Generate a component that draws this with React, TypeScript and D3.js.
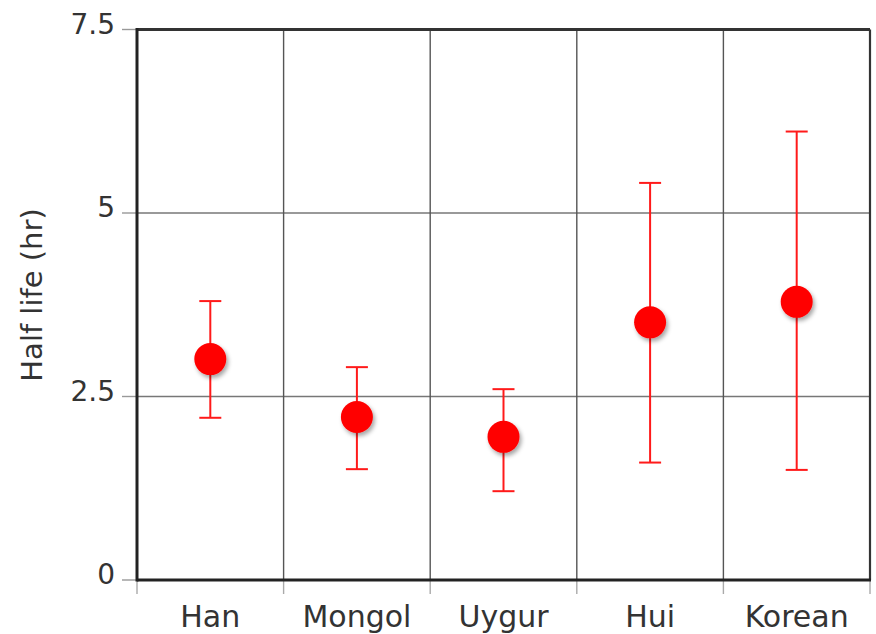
import React from "react";
import * as d3 from "d3";

const categories = ["Han", "Mongol", "Uygur", "Hui", "Korean"];
const means = [3.01, 2.22, 1.95, 3.51, 3.79];
const uppers = [3.8, 2.9, 2.6, 5.41, 6.11];
const lowers = [2.21, 1.51, 1.21, 1.6, 1.5];
const yTicks = [0, 2.5, 5, 7.5];
const yTickLabels = ["0", "2.5", "5", "7.5"];
const yTitle = "Half life (hr)";

const W = 876;
const H = 634;
const left = 137;
const right = 870;
const top = 29.5;
const bottom = 580;

export default function App() {
  const x = d3.scaleBand<string>().domain(categories).range([left, right]).padding(0);
  const y = d3.scaleLinear().domain([0, 7.5]).range([bottom, top]);
  const bw = x.bandwidth();
  const boundaries = categories.map((c) => x(c) as number).concat([right]);
  const font = "'DejaVu Sans', 'Liberation Sans', Arial, sans-serif";
  const textFill = "#333";
  const cap = 11;

  return (
    <svg
      width={W}
      height={H}
      viewBox={`0 0 ${W} ${H}`}
      style={{ position: "absolute", left: 0, top: 0, background: "#fff" }}
    >
      <defs>
        <filter id="shadow" x="-50%" y="-50%" width="200%" height="200%">
          <feDropShadow dx="2" dy="3" stdDeviation="2" floodColor="#000" floodOpacity="0.35" />
        </filter>
      </defs>
      <rect x={0} y={0} width={W} height={H} fill="#fff" />

      {/* horizontal grid */}
      {yTicks.slice(1, -1).map((t) => (
        <line key={"hg" + t} x1={left} x2={right} y1={y(t)} y2={y(t)} stroke="#777" strokeWidth={1.6} />
      ))}
      {/* vertical grid */}
      {boundaries.slice(1, -1).map((b, i) => (
        <line key={"vg" + i} x1={b} x2={b} y1={top} y2={bottom} stroke="#555" strokeWidth={1.4} />
      ))}

      {/* y ticks */}
      {yTicks.map((t, i) => (
        <g key={"yt" + t}>
          <line x1={122} x2={left} y1={y(t)} y2={y(t)} stroke="#999" strokeWidth={1.4} />
          <text
            x={115}
            y={y(t) + 4}
            textAnchor="end"
            fontFamily={font}
            fontSize={28}
            fill={textFill}
          >
            {yTickLabels[i]}
          </text>
        </g>
      ))}

      {/* x ticks */}
      {boundaries.map((b, i) => (
        <line key={"xt" + i} x1={b} x2={b} y1={bottom} y2={594} stroke="#aaa" strokeWidth={1.4} />
      ))}

      {/* frame */}
      <line x1={left} x2={right} y1={top} y2={top} stroke="#333" strokeWidth={3} />
      <line x1={right} x2={right} y1={top} y2={bottom} stroke="#333" strokeWidth={2.2} />
      <line x1={left} x2={left} y1={top - 1.5} y2={bottom + 1.5} stroke="#222" strokeWidth={3} />
      <line x1={left} x2={right + 1} y1={bottom} y2={bottom} stroke="#222" strokeWidth={3} />

      {/* x labels */}
      {categories.map((c) => (
        <text
          key={"xl" + c}
          x={(x(c) as number) + bw / 2}
          y={627}
          textAnchor="middle"
          fontFamily={font}
          fontSize={30}
          fill={textFill}
        >
          {c}
        </text>
      ))}

      {/* y title */}
      <text
        transform={`translate(42, 295) rotate(-90)`}
        textAnchor="middle"
        fontFamily={font}
        fontSize={29}
        fill={textFill}
      >
        {yTitle}
      </text>

      {/* error bars */}
      {categories.map((c, i) => {
        const cx = (x(c) as number) + bw / 2;
        return (
          <g key={"eb" + c} stroke="#ff1a1a" strokeWidth={2}>
            <line x1={cx} x2={cx} y1={y(uppers[i])} y2={y(lowers[i])} />
            <line x1={cx - cap} x2={cx + cap} y1={y(uppers[i])} y2={y(uppers[i])} />
            <line x1={cx - cap} x2={cx + cap} y1={y(lowers[i])} y2={y(lowers[i])} />
          </g>
        );
      })}

      {/* points */}
      {categories.map((c, i) => (
        <circle
          key={"pt" + c}
          cx={(x(c) as number) + bw / 2}
          cy={y(means[i])}
          r={16}
          fill="#ff0000"
          filter="url(#shadow)"
        />
      ))}
    </svg>
  );
}
